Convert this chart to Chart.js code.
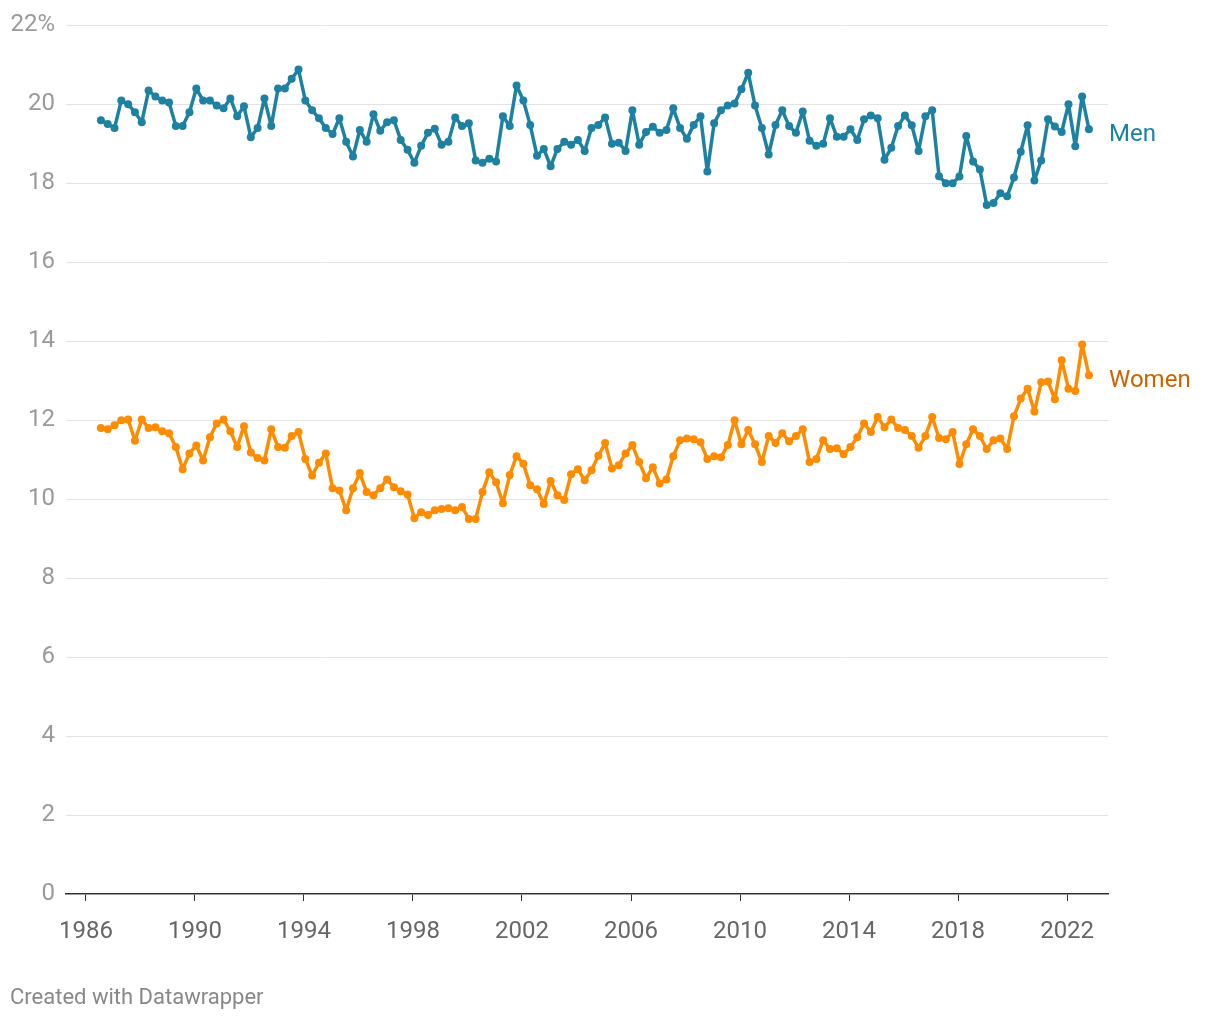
<!DOCTYPE html>
<html><head><meta charset="utf-8">
<script src="https://cdn.jsdelivr.net/npm/chart.js@4.4.1/dist/chart.umd.min.js"></script>
<style>
html,body{margin:0;padding:0;background:#fff;}
#wrap{position:relative;width:1220px;height:1020px;}
#c{position:absolute;left:0;top:0;}
#credit{position:absolute;left:10px;top:984px;font:22px Roboto, sans-serif;line-height:26px;color:#888;}
</style></head><body>
<div id="wrap"><canvas id="c" width="1220" height="1020"></canvas><div id="credit">Created with Datawrapper</div></div>
<script>
const startYear = 1986, startQuarter = 3;
const seriesNames = ['Men', 'Women'];
const men = [
 19.6, 19.5, 19.4, 20.1, 20.0, 19.8, 19.55, 20.35, 20.2, 20.1,
 20.05, 19.45, 19.45, 19.8, 20.4, 20.1, 20.1, 19.97, 19.9, 20.15,
 19.7, 19.95, 19.17, 19.4, 20.15, 19.45, 20.4, 20.4, 20.65, 20.88,
 20.1, 19.85, 19.65, 19.4, 19.25, 19.65, 19.05, 18.68, 19.35, 19.05,
 19.75, 19.33, 19.55, 19.6, 19.1, 18.85, 18.52, 18.95, 19.28, 19.38,
 18.98, 19.05, 19.67, 19.45, 19.52, 18.58, 18.52, 18.62, 18.55, 19.7,
 19.45, 20.48, 20.1, 19.48, 18.7, 18.87, 18.43, 18.87, 19.05, 18.98,
 19.1, 18.82, 19.4, 19.48, 19.67, 19.0, 19.03, 18.82, 19.85, 18.98,
 19.3, 19.43, 19.28, 19.35, 19.9, 19.4, 19.13, 19.48, 19.7, 18.3,
 19.52, 19.85, 19.97, 20.02, 20.38, 20.8, 19.97, 19.4, 18.73, 19.48,
 19.85, 19.45, 19.28, 19.82, 19.08, 18.95, 19.0, 19.65, 19.18, 19.18,
 19.37, 19.1, 19.62, 19.72, 19.65, 18.6, 18.9, 19.45, 19.72, 19.47,
 18.82, 19.7, 19.85, 18.18, 18.0, 18.0, 18.17, 19.2, 18.55, 18.35,
 17.45, 17.5, 17.75, 17.67, 18.15, 18.8, 19.47, 18.07, 18.58, 19.62,
 19.44, 19.3, 20.0, 18.94, 20.2, 19.37
];
const women = [
 11.8, 11.77, 11.87, 12.0, 12.02, 11.48, 12.02, 11.8, 11.82, 11.72,
 11.67, 11.32, 10.76, 11.16, 11.36, 10.98, 11.57, 11.92, 12.02, 11.72,
 11.32, 11.85, 11.18, 11.04, 10.98, 11.77, 11.32, 11.3, 11.6, 11.7,
 11.02, 10.6, 10.92, 11.16, 10.28, 10.22, 9.72, 10.28, 10.66, 10.18,
 10.1, 10.28, 10.5, 10.3, 10.2, 10.12, 9.52, 9.67, 9.6, 9.72,
 9.75, 9.77, 9.72, 9.8, 9.5, 9.5, 10.18, 10.68, 10.43, 9.9,
 10.61, 11.09, 10.9, 10.35, 10.25, 9.88, 10.46, 10.1, 9.98, 10.63,
 10.76, 10.48, 10.73, 11.1, 11.42, 10.78, 10.86, 11.16, 11.37, 10.94,
 10.53, 10.81, 10.4, 10.5, 11.09, 11.49, 11.54, 11.52, 11.44, 11.02,
 11.09, 11.06, 11.37, 12.0, 11.39, 11.75, 11.39, 10.94, 11.6, 11.42,
 11.67, 11.47, 11.6, 11.77, 10.94, 11.02, 11.49, 11.27, 11.29, 11.14,
 11.32, 11.57, 11.92, 11.7, 12.08, 11.82, 12.02, 11.8, 11.75, 11.6,
 11.3, 11.6, 12.08, 11.55, 11.52, 11.7, 10.89, 11.39, 11.77, 11.6,
 11.27, 11.49, 11.54, 11.27, 12.1, 12.55, 12.8, 12.22, 12.96, 12.98,
 12.53, 13.52, 12.8, 12.74, 13.92, 13.14
];
const yearTicks = [1986, 1990, 1994, 1998, 2002, 2006, 2010, 2014, 2018, 2022];
const yTicks = [0, 2, 4, 6, 8, 10, 12, 14, 16, 18, 20, 22];

// quarter categories: "1986 Q3", ...
const quarters = [];
for (let i = 0; i < men.length; i++) {
  const k = startQuarter - 1 + i;
  quarters.push({ label: (startYear + Math.floor(k / 4)) + ' Q' + (k % 4 + 1), year: startYear + Math.floor(k / 4), q: k % 4 + 1 });
}
// each quarter placed a little after its first day
const toPoints = arr => arr.map((v, i) => ({ x: quarters[i].year + (quarters[i].q - 1) / 4 + 0.05, y: v }));

const lineColors = ['#1d81a2', '#ff8c00'];
const labelColors = ['#1d81a2', '#c96400'];

const endLabels = {
  id: 'endLabels',
  afterDatasetsDraw(chart) {
    const { ctx, chartArea } = chart;
    const ys = chart.scales.y;
    chart.data.datasets.forEach((ds, i) => {
      const last = ds.data[ds.data.length - 1];
      const y = ys.getPixelForValue(last.y);
      ctx.save();
      ctx.font = '24px Roboto';
      ctx.fillStyle = labelColors[i];
      ctx.textBaseline = 'middle';
      ctx.textAlign = 'left';
      ctx.fillText(ds.label, chartArea.right + 1, y + 6);
      ctx.restore();
    });
  }
};

new Chart(document.getElementById('c'), {
  type: 'line',
  data: {
    datasets: [men, women].map((arr, i) => ({
      label: seriesNames[i],
      data: toPoints(arr),
      borderColor: lineColors[i],
      backgroundColor: lineColors[i],
      borderWidth: 3.5,
      borderJoinStyle: 'round',
      borderCapStyle: 'round',
      pointRadius: 4,
      pointBorderWidth: 0,
      pointBackgroundColor: lineColors[i],
      tension: 0
    }))
  },
  options: {
    responsive: false,
    animation: false,
    layout: { padding: { top: 25, right: 112, bottom: 0, left: 0 } },
    plugins: { legend: { display: false }, tooltip: { enabled: false } },
    scales: {
      x: {
        type: 'linear',
        min: 1985.27,
        max: 2023.5,
        afterBuildTicks: s => { s.ticks = yearTicks.map(v => ({ value: v })); },
        afterFit: s => { s.height = 126; },
        grid: { drawOnChartArea: false, drawTicks: true, tickLength: 7, color: '#333', lineWidth: 1 },
        border: { display: true, color: '#333', width: 1.5 },
        ticks: { font: { family: 'Roboto', size: 24 }, color: '#666', padding: 17, maxRotation: 0, autoSkip: false,
          callback: v => String(v) }
      },
      y: {
        min: 0,
        max: 22,
        afterBuildTicks: s => { s.ticks = yTicks.map(v => ({ value: v })); },
        afterFit: s => { s.width = 66; },
        grid: { drawTicks: false, color: ctx => ctx.tick && ctx.tick.value === 0 ? 'rgba(0,0,0,0)' : '#e3e3e3', lineWidth: 1 },
        border: { display: false },
        ticks: { font: { family: 'Roboto', size: 24 }, color: '#9a9a9a', padding: 11,
          callback: v => v === 22 ? v + '%' : String(v) }
      }
    }
  },
  plugins: [endLabels]
});
</script>
</body></html>
